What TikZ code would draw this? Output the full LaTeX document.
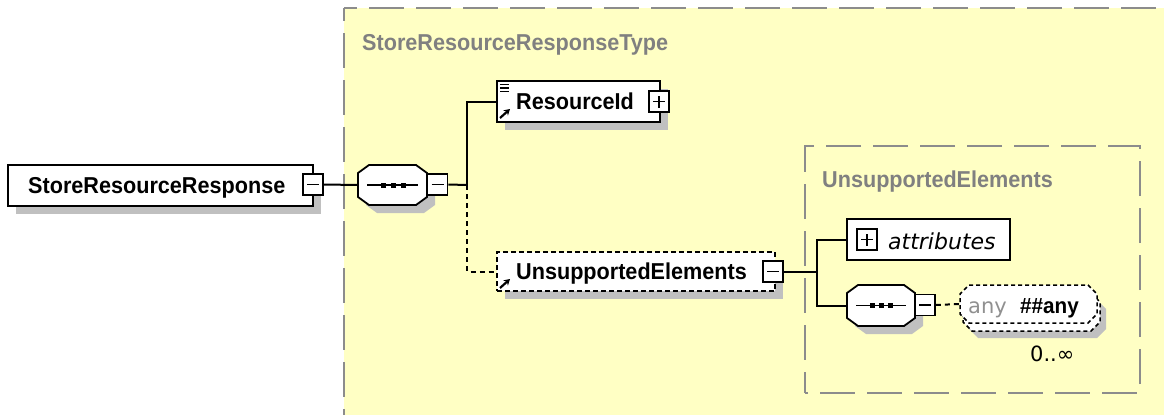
\documentclass[tikz,border=0pt]{standalone}
\usepackage{fontspec}
\setmainfont{Liberation Sans}
\newfontfamily\elfont[FakeStretch=0.94]{Liberation Sans}
\newfontfamily\regfont{DejaVu Sans}
\usetikzlibrary{arrows.meta}
\definecolor{bgyellow}{HTML}{FFFFC4}
\definecolor{bordergray}{HTML}{8C8C8C}
\definecolor{titlegray}{HTML}{808080}
\definecolor{shadowgray}{HTML}{C0C0C0}
\definecolor{anygray}{HTML}{909090}
\newcommand{\octshape}[7]{%
  \path[#7] (#1+#5,#2) -- (#3-#5,#2) -- (#3,#2+#6) -- (#3,#4-#6) -- (#3-#5,#4) -- (#1+#5,#4) -- (#1,#4-#6) -- (#1,#2+#6) -- cycle;}
\tikzset{
  elbox/.style={draw=black, fill=white, line width=1.8pt, inner sep=0pt},
  dashedel/.style={elbox, dash pattern=on 5pt off 3pt},
  shadowed/.style={preaction={fill=shadowgray, draw=none, transform canvas={xshift=8pt,yshift=-8pt}}},
  anchorbox/.style={draw=none, inner sep=0pt},
  typeborder/.style={draw=bordergray, line width=1.8pt, dash pattern=on 35pt off 12pt},
  eltext/.style={inner sep=0pt, anchor=base west, font=\elfont\bfseries\fontsize{23}{26}\selectfont},
  titletext/.style={eltext, text=titlegray},
  regtext/.style={inner sep=0pt, anchor=base west, font=\regfont\fontsize{21}{24}\selectfont},
  conn/.style={draw=black, line width=2pt},
  dashline/.style={dash pattern=on 5pt off 4pt},
  minusbox/.style={draw=black, fill=white, line width=1.6pt, inner sep=0pt, minimum width=20pt, minimum height=21pt,
    path picture={\draw[line width=1.5pt] ([xshift=-6pt]path picture bounding box.center) -- ([xshift=6pt]path picture bounding box.center);}},
  plusbox/.style={minusbox, path picture={\draw[line width=1.5pt] ([xshift=-6pt]path picture bounding box.center) -- ([xshift=6pt]path picture bounding box.center) ([yshift=-6pt]path picture bounding box.center) -- ([yshift=6pt]path picture bounding box.center);}},
  icon/.style={line width=1.6pt},
  refarrow/.style={line width=2.2pt, -{Stealth[length=6pt,width=7pt]}},
}
\begin{document}
\begin{tikzpicture}[x=1pt,y=-1pt]
\useasboundingbox (0,0) rectangle (1164,415);
\fill[white] (0,0) rectangle (1164,415);
% outer complex type box
\fill[bgyellow] (344,8) rectangle (1164,415);
\draw[typeborder, dash phase=22pt] (344,8) -- (1164,8);
\draw[typeborder, dash phase=22pt] (344,8) -- (344,415);
\node[titletext] (t1) at (362,50) {StoreResourceResponseType};
% inner type box
\node[draw=bordergray, line width=1.8pt, dash pattern=on 35pt off 12pt, dash phase=32pt, inner sep=0pt,
      minimum width=335pt, minimum height=247pt] (ibox) at (972.5,269.5) {};
\node[titletext] (t2) at (822,187) {UnsupportedElements};

% root element
\node[elbox, shadowed, minimum width=305pt, minimum height=41pt] (srr) at (160.5,185.5) {};
\node[eltext] (srrt) at (28,193) {StoreResourceResponse};
\node[minusbox] (srrm) at (313,184.5) {};

% sequence 1
\node[anchorbox, minimum width=69pt, minimum height=40pt] (seq1) at (392.5,185) {};
\octshape{366}{173}{435}{213}{11}{8}{fill=shadowgray}
\octshape{358}{165}{427}{205}{11}{8}{draw=black, fill=white, line width=1.8pt}
\draw[line width=1.6pt] (367,185) -- (418,185);
\foreach \dx in {383,393,403} {\fill (\dx-2.5,182.5) rectangle (\dx+2.5,187.5);}
\node[minusbox] (seq1m) at (437.5,184.5) {};

% ResourceId
\node[elbox, shadowed, minimum width=163pt, minimum height=41pt] (rid) at (578.5,101.5) {};
\node[eltext] (ridt) at (516,109) {ResourceId};
\node[plusbox] (ridp) at (659,101.5) {};
\draw[icon] (500,84.5) -- (509,84.5) (500,88) -- (509,88) (500,91.5) -- (509,91.5);
\draw[refarrow] (500,118) -- (510,109);

% UnsupportedElements
\node[dashedel, shadowed, minimum width=278pt, minimum height=39pt] (ue) at (636,271.5) {};
\node[eltext] (uet) at (516,279) {UnsupportedElements};
\node[minusbox] (uem) at (773,271.5) {};
\draw[refarrow] (500,288) -- (510,279);

% attributes
\node[elbox, minimum width=163pt, minimum height=41pt] (attr) at (928.5,239.5) {};
\node[plusbox] (attrp) at (867,239.5) {};
\node[regtext, font=\regfont\itshape\fontsize{22}{24}\selectfont] (attrt) at (888,249) {attributes};

% sequence 2
\node[anchorbox, minimum width=68pt, minimum height=41pt] (seq2) at (881,305.5) {};
\octshape{855}{293}{923}{334}{11}{8}{fill=shadowgray}
\octshape{847}{285}{915}{326}{11}{8}{draw=black, fill=white, line width=1.8pt}
\draw[line width=1.6pt] (856,305.5) -- (906,305.5);
\foreach \dx in {872,881,890} {\fill (\dx-2.5,303) rectangle (\dx+2.5,308);}
\node[minusbox] (seq2m) at (925,305) {};

% any wildcard
\node[anchorbox, minimum width=137pt, minimum height=38pt] (anyel) at (1028.5,304) {};
\octshape{969}{300}{1106}{338}{9}{9}{fill=shadowgray}
\octshape{963}{293}{1100}{331}{9}{9}{draw=black, fill=white, line width=1.5pt, dash pattern=on 4pt off 3pt}
\octshape{960}{285}{1097}{323}{9}{9}{draw=black, fill=white, line width=1.5pt, dash pattern=on 4pt off 3pt}
\node[regtext, text=anygray] (anyt) at (968,313) {any};
\node[eltext, font=\elfont\bfseries\fontsize{22}{24}\selectfont] (anyns) at (1020,313) {\#\#any};
\node[regtext] (occ) at (1030,361) {0..∞};

% connectors
\coordinate (br1) at (467,185);
\coordinate (br2) at (817,271.5);
\draw[conn] (srrm.east) -- (seq1.west);
\draw[conn] (seq1m.east) -- (br1);
\draw[conn] (br1) |- (rid.west);
\draw[conn, dashline] (br1) |- (ue.west);
\draw[conn] (uem.east) -- (br2);
\draw[conn] (br2) |- (attr.west);
\draw[conn] (br2) |- (seq2.west);
\draw[conn, dashline] (seq2m.east) -- (anyel.west);
\end{tikzpicture}
\end{document}
